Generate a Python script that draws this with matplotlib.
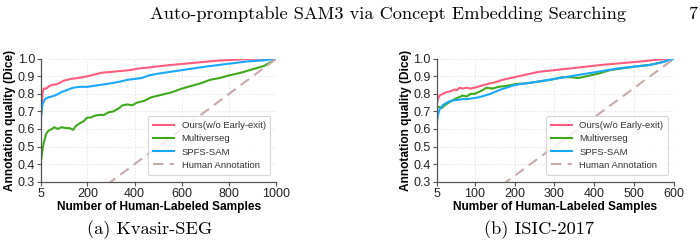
import matplotlib.pyplot as plt

# (a) Kvasir-SEG
kv_ours_x = [5, 10, 15, 25, 40, 50, 70, 80, 100, 130, 160, 200, 230, 260, 300, 340, 380, 420, 460, 520, 600, 680, 760, 840, 900, 1000]
kv_ours_y = [0.70, 0.80, 0.83, 0.83, 0.845, 0.85, 0.855, 0.86, 0.875, 0.885, 0.89, 0.90, 0.91, 0.92, 0.925, 0.93, 0.935, 0.945, 0.95, 0.96, 0.97, 0.98, 0.99, 0.995, 1.0, 1.0]

kv_multi_x = [5, 10, 15, 25, 35, 50, 60, 75, 90, 110, 125, 140, 150, 165, 185, 200, 215, 230, 250, 270, 290, 310, 330, 350, 370, 390, 410, 440, 470, 500, 530, 560, 600, 640, 680, 720, 760, 800, 850, 900, 950, 1000]
kv_multi_y = [0.43, 0.48, 0.52, 0.57, 0.59, 0.60, 0.61, 0.60, 0.61, 0.605, 0.605, 0.595, 0.615, 0.63, 0.645, 0.665, 0.665, 0.675, 0.68, 0.68, 0.695, 0.70, 0.715, 0.735, 0.74, 0.735, 0.75, 0.76, 0.78, 0.79, 0.80, 0.81, 0.83, 0.845, 0.86, 0.88, 0.89, 0.905, 0.92, 0.94, 0.96, 1.0]

kv_spfs_x = [5, 10, 20, 35, 50, 70, 90, 110, 140, 170, 200, 250, 300, 340, 370, 400, 430, 460, 500, 550, 600, 650, 700, 760, 820, 880, 940, 1000]
kv_spfs_y = [0.68, 0.74, 0.77, 0.78, 0.785, 0.795, 0.81, 0.82, 0.835, 0.84, 0.84, 0.85, 0.86, 0.87, 0.88, 0.885, 0.89, 0.905, 0.915, 0.925, 0.935, 0.945, 0.955, 0.965, 0.975, 0.985, 0.99, 1.0]

# (b) ISIC-2017
is_ours_x = [5, 8, 12, 20, 30, 40, 50, 55, 62, 70, 80, 90, 100, 115, 130, 150, 170, 200, 230, 260, 300, 340, 380, 420, 470, 520, 560, 600]
is_ours_y = [0.74, 0.77, 0.79, 0.80, 0.81, 0.815, 0.825, 0.82, 0.835, 0.83, 0.835, 0.83, 0.835, 0.845, 0.855, 0.865, 0.88, 0.895, 0.91, 0.925, 0.935, 0.945, 0.955, 0.965, 0.975, 0.985, 0.995, 1.0]

is_multi_x = [5, 10, 18, 25, 35, 50, 60, 70, 80, 90, 100, 115, 130, 145, 160, 180, 200, 230, 260, 290, 320, 340, 360, 380, 410, 440, 470, 500, 540, 570, 600]
is_multi_y = [0.73, 0.725, 0.72, 0.735, 0.75, 0.77, 0.78, 0.79, 0.785, 0.80, 0.80, 0.815, 0.835, 0.83, 0.84, 0.845, 0.855, 0.86, 0.87, 0.88, 0.895, 0.895, 0.89, 0.90, 0.915, 0.935, 0.945, 0.955, 0.965, 0.98, 1.0]

is_spfs_x = [5, 8, 12, 20, 30, 40, 55, 70, 80, 95, 110, 125, 140, 160, 180, 200, 230, 260, 300, 340, 380, 420, 460, 500, 540, 570, 600]
is_spfs_y = [0.63, 0.68, 0.71, 0.735, 0.75, 0.76, 0.765, 0.77, 0.77, 0.775, 0.78, 0.79, 0.80, 0.82, 0.835, 0.85, 0.86, 0.87, 0.885, 0.90, 0.915, 0.93, 0.945, 0.955, 0.965, 0.98, 1.0]

series_names = ["Ours(w/o Early-exit)", "Multiverseg", "SPFS-SAM", "Human Annotation"]
colors = ["#ff5c80", "#3fa91c", "#1aa8ff", "#c8a9a9"]

panels = [
    dict(pos=[0.059, 0.2644, 0.3357, 0.4979], xmax=1000, xticks=[5, 200, 400, 600, 800, 1000],
         ours=(kv_ours_x, kv_ours_y), multi=(kv_multi_x, kv_multi_y), spfs=(kv_spfs_x, kv_spfs_y)),
    dict(pos=[0.6239, 0.2644, 0.3390, 0.4979], xmax=600, xticks=[5, 100, 200, 300, 400, 500, 600],
         ours=(is_ours_x, is_ours_y), multi=(is_multi_x, is_multi_y), spfs=(is_spfs_x, is_spfs_y)),
]

plt.rcParams["font.family"] = ["Liberation Sans", "DejaVu Sans"]

fig = plt.figure(figsize=(7.0, 2.47), dpi=100)

for p in panels:
    ax = fig.add_axes(p["pos"])
    ax.plot(*p["ours"], color=colors[0], lw=1.5, label=series_names[0])
    ax.plot(*p["multi"], color=colors[1], lw=1.5, label=series_names[1])
    ax.plot(*p["spfs"], color=colors[2], lw=1.5, label=series_names[2])
    ax.plot([0, p["xmax"]], [0, 1.0], color=colors[3], lw=1.5, ls=(0, (5, 3)), label=series_names[3])

    ax.set_xlim(5, p["xmax"])
    ax.set_ylim(0.3, 1.0)
    ax.set_xticks(p["xticks"])
    ax.set_yticks([0.3, 0.4, 0.5, 0.6, 0.7, 0.8, 0.9, 1.0])
    ax.set_yticklabels([f"{v:.1f}" for v in ax.get_yticks()])
    ax.tick_params(labelsize=9, length=3, width=0.8, pad=1.5, colors="#555555", labelcolor="#222222")
    ax.grid(True, color="#e3e3e3", ls=(0, (2, 2)), lw=0.6)
    ax.set_axisbelow(True)
    for s in ["top", "right"]:
        ax.spines[s].set_visible(False)
    for s in ["left", "bottom"]:
        ax.spines[s].set_color("#555555")
        ax.spines[s].set_linewidth(0.9)
    ax.set_xlabel("Number of Human-Labeled Samples", fontsize=8.6, fontweight="bold", labelpad=0.5)
    ax.set_ylabel("Annotation quality (Dice)", fontsize=8.6, fontweight="bold", labelpad=1)
    leg = ax.legend(loc="lower right", fontsize=6.8, frameon=True, handlelength=2.2,
                    borderpad=0.5, labelspacing=0.45, fancybox=True, bbox_to_anchor=(0.995, 0.02))
    leg.get_frame().set_edgecolor("#cccccc")
    leg.get_frame().set_linewidth(0.8)
    for t in leg.get_texts():
        t.set_color("#333333")

serif = ["cmr10", "DejaVu Serif"]
fig.text(0.2143, 0.923, "Auto-promptable SAM3 via Concept Embedding Searching",
         fontsize=13.2, family=serif, ha="left", va="baseline")
fig.text(0.9829, 0.923, "7", fontsize=13.2, family=serif, ha="left", va="baseline")
fig.text(0.214, 0.069, "(a) Kvasir-SEG", fontsize=13.2, family=serif, ha="center", va="center")
fig.text(0.770, 0.069, "(b) ISIC-2017", fontsize=13.2, family=serif, ha="center", va="center")

fig.savefig("out.png", dpi=100)
